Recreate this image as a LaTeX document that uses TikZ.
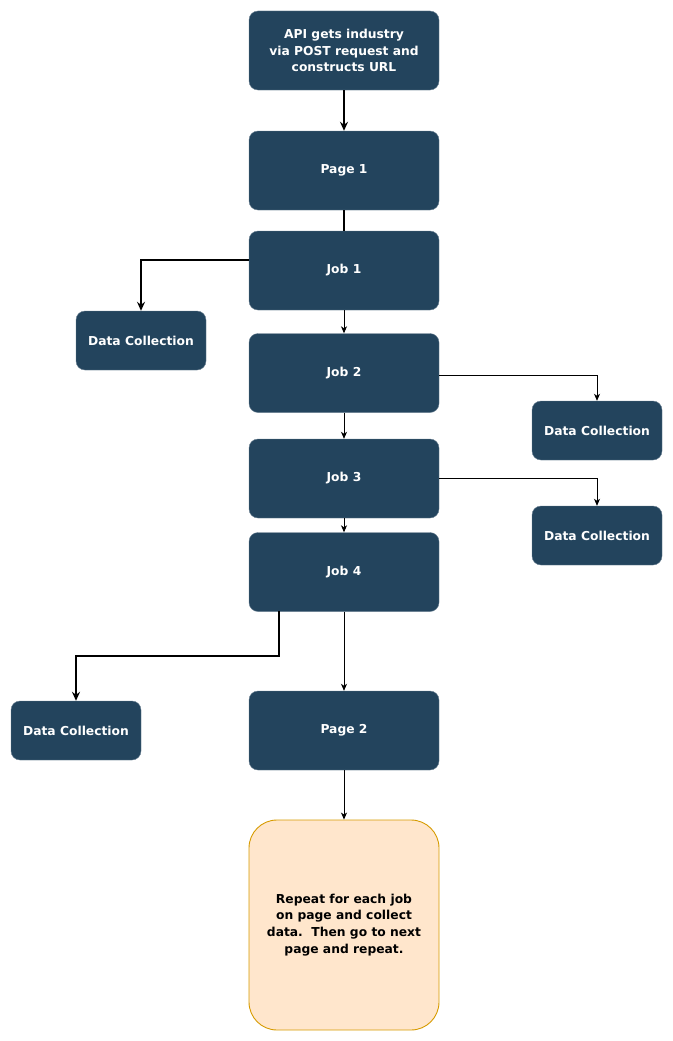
\documentclass[tikz,border=0pt]{standalone}
\usepackage{fontspec}
\setmainfont{DejaVu Sans}
\usetikzlibrary{arrows.meta}
\definecolor{navy}{HTML}{23445D}
\definecolor{peach}{HTML}{FFE6CC}
\definecolor{amber}{HTML}{D79B00}
\begin{document}
\begin{tikzpicture}[x=1pt,y=-1pt,
  box/.style={draw=navy!70!white,fill=navy,rounded corners=9pt,text=white,font=\bfseries\fontsize{12.3}{16.8}\selectfont,align=center,inner sep=0pt,minimum width=190pt,minimum height=79pt},
  dcbox/.style={box,minimum width=130pt,minimum height=59pt},
  notebox/.style={draw=amber,line width=0.9pt,fill=peach,rounded corners=28pt,text=black,font=\bfseries\fontsize{12.3}{16.8}\selectfont,align=center,inner sep=0pt,minimum width=190pt,minimum height=210pt},
  thickarr/.style={line width=1.8pt,-{Stealth[length=9pt,width=8pt,inset=3pt]}},
  thinarr/.style={line width=0.8pt,-{Stealth[length=7pt,width=6pt,inset=2pt]}},
  thickline/.style={line width=1.8pt}]
\useasboundingbox (0,0) rectangle (672,1041);
\node[box] (api) at (344,50.5) {API gets industry\\via POST request and\\constructs URL};
\node[box] (p1) at (344,170.5) {Page 1};
\node[box] (j1) at (344,270.5) {Job 1};
\node[dcbox] (dc1) at (141,340.5) {Data Collection};
\node[box] (j2) at (344,373) {Job 2};
\node[dcbox] (dc2) at (597,430.5) {Data Collection};
\node[box] (j3) at (344,478.5) {Job 3};
\node[dcbox] (dc3) at (597,535.5) {Data Collection};
\node[box] (j4) at (344,572) {Job 4};
\node[dcbox] (dc4) at (76,730.5) {Data Collection};
\node[box] (p2) at (344,730.5) {Page 2};
\node[notebox] (note) at (344,925) {Repeat for each job\\on page and collect\\data.\ \ Then go to next\\page and repeat.};
\coordinate (c4) at (279,611);
\draw[thickarr] (api) -- (p1);
\draw[thickline] (p1) -- (j1);
\draw[thickarr] (j1.west |- 0,260) -| (dc1.north);
\draw[thinarr] (j1) -- (j2);
\draw[thinarr] (j2.east |- 0,375) -| (dc2.north);
\draw[thinarr] (j2) -- (j3);
\draw[thinarr] (j3.east |- 0,478) -| (dc3.north);
\draw[thinarr] (j3) -- (j4);
\draw[thickarr] (c4) -- (279,656) -| (dc4.north);
\draw[thinarr] (j4) -- (p2);
\draw[thinarr] (p2) -- (note);
\end{tikzpicture}
\end{document}
